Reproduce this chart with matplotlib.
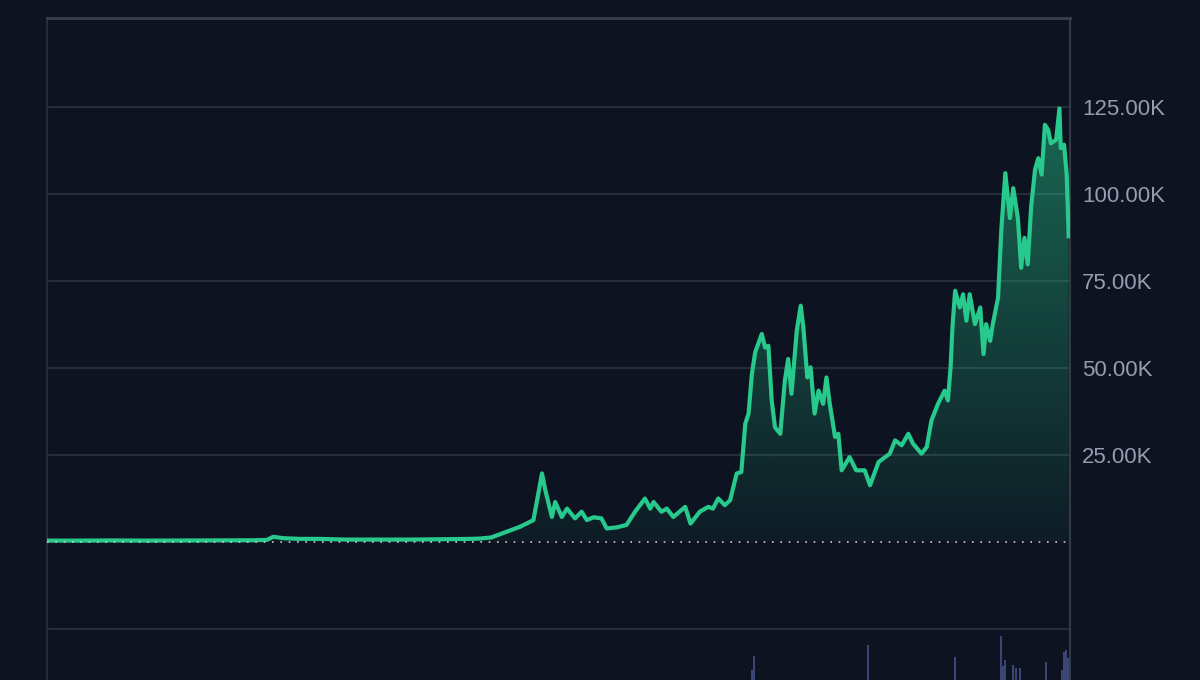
import numpy as np
import matplotlib.pyplot as plt

# price history (decimal year, price in thousands USD)
years = [2010.47, 2011.0, 2011.45, 2012.0, 2012.9, 2013.3, 2013.6, 2013.8, 2013.9, 2014.05,
         2014.3, 2014.6, 2015.0, 2015.5, 2016.0, 2016.5, 2016.9, 2017.03, 2017.2, 2017.3,
         2017.44, 2017.64, 2017.84, 2017.97, 2018.02, 2018.12, 2018.17, 2018.27, 2018.35, 2018.47,
         2018.57, 2018.65, 2018.75, 2018.87, 2018.95, 2019.10, 2019.25, 2019.38, 2019.53, 2019.61,
         2019.66, 2019.78, 2019.86, 2019.96, 2020.14, 2020.22, 2020.36, 2020.49, 2020.56, 2020.64,
         2020.74, 2020.82, 2020.92, 2020.99, 2021.05, 2021.10, 2021.15, 2021.20, 2021.30, 2021.35,
         2021.40, 2021.45, 2021.50, 2021.58, 2021.65, 2021.70, 2021.75, 2021.83, 2021.89, 2021.93,
         2021.99, 2022.04, 2022.10, 2022.16, 2022.23, 2022.28, 2022.33, 2022.41, 2022.46, 2022.51,
         2022.63, 2022.73, 2022.86, 2022.94, 2023.07, 2023.24, 2023.32, 2023.42, 2023.52, 2023.59,
         2023.72, 2023.80, 2023.87, 2023.97, 2024.07, 2024.12, 2024.16, 2024.19, 2024.23, 2024.30,
         2024.35, 2024.40, 2024.45, 2024.53, 2024.61, 2024.66, 2024.70, 2024.76, 2024.80, 2024.88,
         2024.93, 2024.99, 2025.06, 2025.11, 2025.18, 2025.23, 2025.28, 2025.33, 2025.38, 2025.44,
         2025.49, 2025.54, 2025.59, 2025.64, 2025.68, 2025.76, 2025.81, 2025.83, 2025.88, 2025.92,
         2025.95]
price_k = [0.4, 0.4, 0.45, 0.4, 0.45, 0.5, 0.5, 0.6, 1.5, 1.1,
           0.9, 0.9, 0.7, 0.7, 0.7, 0.8, 0.9, 1.0, 1.3, 2.0,
           3.0, 4.4, 6.3, 19.7, 14.9, 7.2, 11.5, 7.2, 9.6, 6.8,
           8.7, 6.3, 7.1, 6.8, 3.9, 4.2, 4.9, 8.7, 12.5, 9.6,
           11.5, 8.7, 9.6, 7.2, 10.1, 5.3, 8.7, 10.1, 9.6, 12.5,
           10.6, 12.0, 19.7, 20.1, 34.0, 36.9, 48.3, 54.5, 59.8, 55.9,
           56.4, 40.7, 33.0, 31.1, 46.4, 52.6, 42.6, 60.7, 67.9, 61.7,
           47.3, 50.2, 36.9, 43.5, 39.7, 47.3, 39.7, 30.2, 31.1, 20.6,
           24.4, 20.6, 20.6, 16.3, 23.0, 25.4, 29.2, 27.8, 31.1, 28.3,
           25.4, 27.3, 34.9, 39.7, 43.5, 40.7, 50.0, 62.0, 72.2, 67.4,
           71.2, 63.6, 71.2, 62.6, 67.4, 54.0, 62.6, 57.8, 62.6, 70.2,
           89.8, 106.0, 93.1, 101.7, 93.1, 78.8, 87.4, 79.8, 96.0, 107.0,
           110.3, 105.6, 119.9, 118.4, 114.6, 115.6, 124.6, 113.2, 114.2, 105.6,
           87.9]

# visible volume spikes (arbitrary units)
vol_years = [2021.15, 2021.18, 2022.91, 2024.23, 2024.92, 2024.95, 2024.98, 2025.11,
             2025.15, 2025.21, 2025.61, 2025.85, 2025.88, 2025.91, 2025.94]
vol = [10, 24, 35, 23, 44, 14, 20, 15, 12, 12, 18, 10, 28, 30, 22]

tick_vals = [25, 50, 75, 100, 125]
tick_labels = ['25.00K', '50.00K', '75.00K', '100.00K', '125.00K']

bg = '#0d1320'
green = '#27c98c'
x0, x1 = 2010.47, 2025.97
y0, y1 = -39.66, 150.6

fig = plt.figure(figsize=(12, 6.8), dpi=100, facecolor=bg)
ax = fig.add_axes([47 / 1200, 0, 1023 / 1200, 1 - 18 / 680])
ax.set_facecolor(bg)

for v in [-25] + tick_vals:
    ax.axhline(v, color='#262c38', lw=1.5, zorder=0)
ax.axhline(0, color='#c9ccd4', lw=1.2, ls=(0, (1, 4)), zorder=4)

# gradient area under the line
fill = ax.fill_between(years, price_k, 0, color='none', lw=0)
rgb = np.array([39, 201, 140]) / 255
grad = np.linspace(0, 1, 256)
rgba = np.zeros((256, 1, 4))
rgba[:, 0, :3] = rgb
rgba[:, 0, 3] = 0.05 + 0.42 * grad
im = ax.imshow(rgba, extent=[x0, x1, 0, 125], origin='lower', aspect='auto', zorder=1)
im.set_clip_path(fill.get_paths()[0], transform=ax.transData)

ax.plot(years, price_k, color=green, lw=3.0, solid_joinstyle='round', zorder=3)

ax.set_xlim(x0, x1)
ax.set_ylim(y0, y1)
ax.set_xticks([])
ax.yaxis.tick_right()
ax.set_yticks(tick_vals, tick_labels)
ax.tick_params(axis='y', length=0, pad=8.5, labelsize=16, labelcolor='#979db0')
for t in ax.get_yticklabels():
    t.set_fontfamily('Liberation Sans')

ax.spines['bottom'].set_visible(False)
ax.spines['left'].set_color('#262b37')
ax.spines['left'].set_linewidth(1.5)
ax.spines['right'].set_color('#343a46')
ax.spines['right'].set_linewidth(1.5)
ax.spines['top'].set_color('#363c48')
ax.spines['top'].set_linewidth(2.2)

# volume strip at the very bottom
vax = fig.add_axes([47 / 1200, 0, 1023 / 1200, 50 / 680])
vax.set_facecolor('none')
vax.bar(vol_years, vol, width=0.03, color='#3b4676', align='center')
vax.set_xlim(x0, x1)
vax.set_ylim(0, 50)
vax.axis('off')

fig.savefig('out.png', dpi=100, facecolor=bg)
